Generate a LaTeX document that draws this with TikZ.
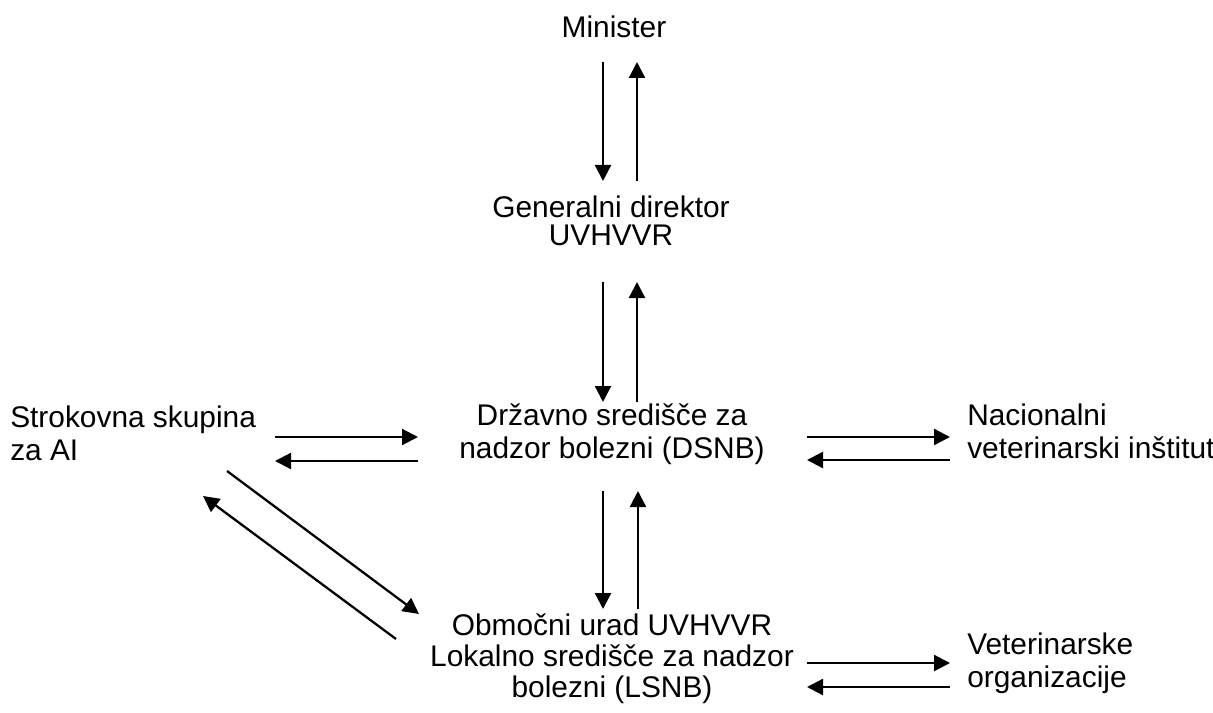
\documentclass[tikz,border=0pt]{standalone}
\usepackage{fontspec}
\setmainfont{Liberation Sans}
\usetikzlibrary{arrows.meta}
\begin{document}
\begin{tikzpicture}[x=0.75pt,y=-0.75pt]
        \tikzstyle{txt}=[inner sep=0pt, font=\fontsize{22.4}{24.75}\selectfont]
        \tikzstyle{mid}=[txt, align=center, anchor=base]
        \tikzstyle{side}=[txt, align=left, anchor=base west]
        \tikzstyle{arr}=[line width=1.7pt, -{Triangle[length=12pt,width=12pt]}]

        \useasboundingbox (0,0) rectangle (1213,713);

        \node[mid] (min)  at (614,38)  {Minister};
        \node[mid, font=\fontsize{22.4}{21}\selectfont] (gen) at (611,245) {Generalni direktor\\UVHVVR};
        \node[mid] (dsnb) at (612,458) {Državno središče za\\nadzor bolezni (DSNB)};
        \node[mid, font=\fontsize{22.4}{23.25}\selectfont] (lsnb) at (612,697) {Območni urad UVHVVR\\Lokalno središče za nadzor\\bolezni (LSNB)};
        \node[side] (ai)  at (10,460)  {Strokovna skupina\\za AI};
        \node[side] (nvi) at (967,458) {Nacionalni\\veterinarski inštitut};
        \node[side] (vo)  at (967,687) {Veterinarske\\organizacije};

        % vertical pairs
        \draw[arr] ([shift={(-11,24)}]min.base) -- ([shift={(-8,-64)}]gen.base);
        \draw[arr] ([shift={(26,-64)}]gen.base) -- ([shift={(23,24)}]min.base);
        \draw[arr] ([shift={(-8,37)}]gen.base) -- ([shift={(-9,-56)}]dsnb.base);
        \draw[arr] ([shift={(25,-56)}]dsnb.base) -- ([shift={(26,37)}]gen.base);
        \draw[arr] ([shift={(-9,33)}]dsnb.base) -- ([shift={(-9,-88)}]lsnb.base);
        \draw[arr] ([shift={(26,-88)}]lsnb.base) -- ([shift={(26,33)}]dsnb.base);

        % horizontal pairs
        \draw[arr] ([shift={(265,-23)}]ai.base west) -- ([shift={(-194,-21)}]dsnb.base);
        \draw[arr] ([shift={(-194,3)}]dsnb.base) -- ([shift={(265,1)}]ai.base west);
        \draw[arr] ([shift={(195,-21)}]dsnb.base) -- ([shift={(-17,-21)}]nvi.base west);
        \draw[arr] ([shift={(-17,2)}]nvi.base west) -- ([shift={(195,2)}]dsnb.base);
        \draw[arr] ([shift={(195,-34)}]lsnb.base) -- ([shift={(-17,-24)}]vo.base west);
        \draw[arr] ([shift={(-17,0)}]vo.base west) -- ([shift={(195,-10)}]lsnb.base);

        % diagonal pair
        \draw[arr] ([shift={(217,11)}]ai.base west) -- ([shift={(-193,-83)}]lsnb.base);
        \draw[arr] ([shift={(-216,-58)}]lsnb.base) -- ([shift={(193,36)}]ai.base west);
\end{tikzpicture}
\end{document}
